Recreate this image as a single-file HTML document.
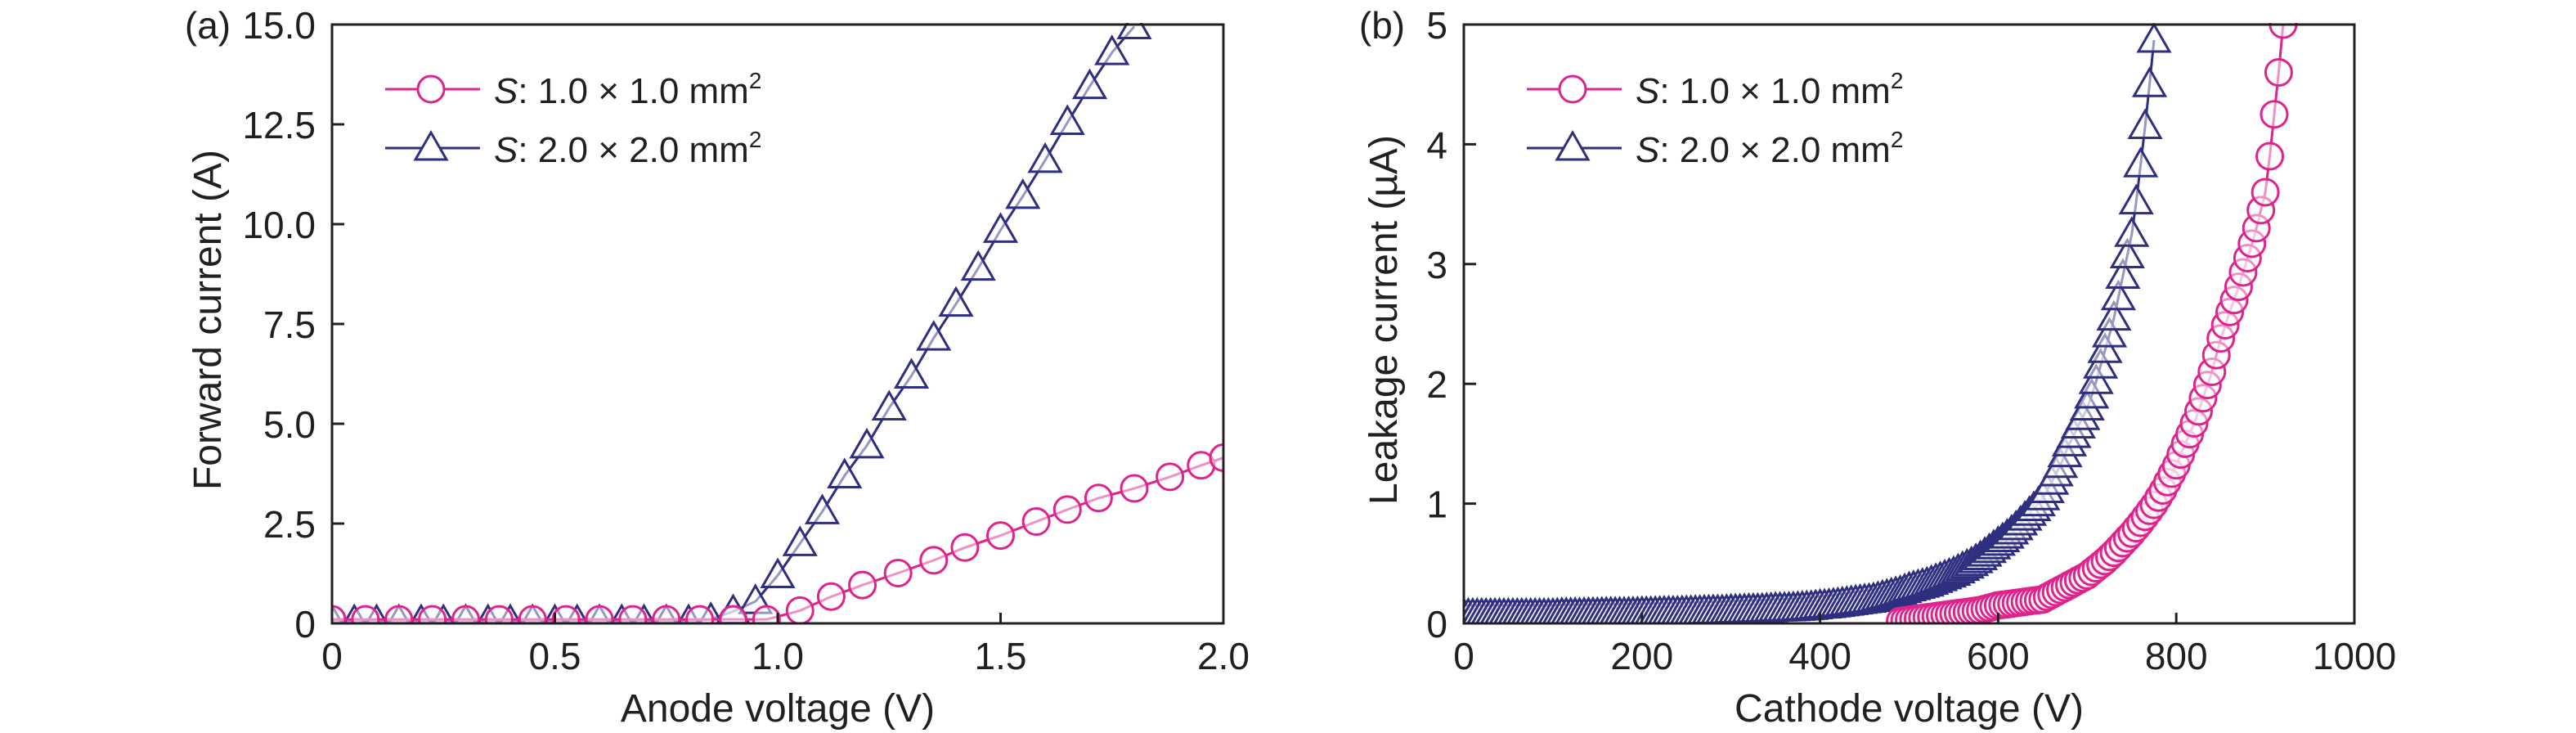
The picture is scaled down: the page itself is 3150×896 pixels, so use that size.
<!DOCTYPE html>
<html><head><meta charset="utf-8"><style>
html,body{margin:0;padding:0;background:#fff}
svg{display:block}
text{font-family:"Liberation Sans",sans-serif;fill:#231f20}
</style></head><body>
<svg id="c" width="3150" height="896" viewBox="0 0 3150 896" xmlns="http://www.w3.org/2000/svg"></svg>
<script>
// Panel (a) data
const aTriX=[0,0.05,0.1,0.15,0.2,0.25,0.3,0.35,0.4,0.45,0.5,0.55,0.6,0.65,0.7,0.75,0.8,0.85,0.9,0.95,1.0,1.05,1.1,1.15,1.2,1.25,1.3,1.35,1.4,1.45,1.5,1.55,1.6,1.65,1.7,1.75,1.8];
const aTriY=[0.05,0.05,0.05,0.05,0.05,0.05,0.05,0.05,0.05,0.05,0.05,0.05,0.05,0.05,0.05,0.05,0.05,0.1,0.3,0.55,1.2,2.0,2.8,3.7,4.45,5.4,6.2,7.15,8.0,8.9,9.85,10.7,11.6,12.55,13.45,14.3,14.95];
const aCirX=[0,0.075,0.15,0.225,0.3,0.375,0.45,0.525,0.6,0.675,0.75,0.825,0.9,0.975,1.05,1.12,1.19,1.27,1.35,1.42,1.5,1.58,1.65,1.72,1.8,1.88,1.95,2.0];
const aCirY=[0.1,0.1,0.1,0.1,0.1,0.1,0.1,0.1,0.1,0.1,0.1,0.1,0.1,0.1,0.32,0.67,0.96,1.26,1.58,1.9,2.2,2.55,2.85,3.14,3.38,3.67,3.96,4.15];
const aXTicks=[0,0.5,1.0,1.5,2.0];
const aXLabels=["0","0.5","1.0","1.5","2.0"];
const aYTicks=[0,2.5,5,7.5,10,12.5,15];
const aYLabels=["0","2.5","5.0","7.5","10.0","12.5","15.0"];
// Panel (b) data
const bTriX=[0,5,10,15,20,25,30,35,40,45,50,55,60,65,70,75,80,85,90,95,100,
105,110,115,120,125,130,135,140,145,150,155,160,165,170,175,180,185,190,195,200,
205,210,215,220,225,230,235,240,245,250,255,260,265,270,275,280,285,290,295,300,
305,310,315,320,325,330,335,340,345,350,355,360,365,370,375,380,385,390,395,400,
405,410,415,420,425,430,435,440,445,450,455,460,465,470,475,480,485,490,495,500,
505,510,515,520,525,530,535,540,545,550,555,560,565,570,575,580,585,590,595,600,
605,610,615,620,625,630,635,640,645,650,655,660,665,670,675,680,685,690,695,700,
705,710,715,720,725,730,735,740,745,750,755,760,765,770,775];
const bTriY=[0.07,0.07,0.07,0.07,0.07,0.07,0.07,0.07,0.07,0.07,0.07,0.07,0.07,0.07,0.07,0.07,0.07,0.07,0.07,0.07,0.07,
0.072,0.075,0.075,0.075,0.075,0.075,0.076,0.078,0.078,0.078,0.079,0.08,0.08,0.08,0.08,0.08,0.081,0.082,0.083,0.085,
0.085,0.085,0.086,0.088,0.089,0.09,0.09,0.09,0.091,0.092,0.093,0.095,0.096,0.097,0.098,0.1,0.1,0.1,0.102,0.105,
0.106,0.107,0.108,0.11,0.111,0.112,0.113,0.115,0.117,0.12,0.121,0.122,0.123,0.125,0.127,0.13,0.132,0.135,0.14,0.145,
0.147,0.15,0.155,0.16,0.165,0.17,0.175,0.18,0.185,0.19,0.195,0.2,0.21,0.22,0.23,0.24,0.25,0.26,0.275,0.29,
0.3,0.31,0.32,0.33,0.345,0.36,0.375,0.39,0.405,0.42,0.44,0.46,0.48,0.5,0.525,0.55,0.58,0.61,0.64,0.67,
0.7,0.73,0.765,0.8,0.84,0.88,0.92,0.96,1.0,1.05,1.11,1.18,1.25,1.32,1.41,1.5,1.57,1.65,1.72,1.8,
1.9,2.02,2.15,2.28,2.41,2.55,2.72,2.9,3.07,3.25,3.52,3.83,4.15,4.5,4.87];
const bCirX=[490,495,500,505,510,515,520,525,530,535,540,545,550,555,560,565,570,575,580,585,590,595,600,
605,610,615,620,625,630,635,640,645,650,655,660,665,670,675,680,685,690,695,700,
705,710,715,720,725,730,735,740,745,750,755,760,765,770,775,780,785,790,795,800,
805,810,815,820,825,830,835,840,845,850,855,860,865,870,875,880,885,890,895,900,
905,910,915,920];
const bCirY=[0.02,0.025,0.03,0.035,0.04,0.045,0.05,0.055,0.06,0.065,0.07,0.075,0.08,0.085,0.09,0.095,0.1,0.105,0.11,0.12,0.13,0.14,0.15,
0.155,0.16,0.165,0.17,0.175,0.18,0.185,0.19,0.195,0.2,0.22,0.24,0.26,0.28,0.3,0.32,0.34,0.36,0.38,0.4,
0.43,0.46,0.49,0.52,0.555,0.59,0.63,0.67,0.71,0.75,0.795,0.84,0.89,0.94,0.99,1.05,1.11,1.18,1.25,1.32,
1.41,1.5,1.58,1.67,1.77,1.88,1.99,2.1,2.24,2.38,2.49,2.6,2.7,2.81,2.93,3.05,3.17,3.3,3.45,3.6,
3.9,4.25,4.6,5.0];
const bXTicks=[0,200,400,600,800,1000];
const bXLabels=["0","200","400","600","800","1000"];
const bYTicks=[0,1,2,3,4,5];
const bYLabels=["0","1","2","3","4","5"];

const NS="http://www.w3.org/2000/svg";
const svg=document.getElementById('c');
const PINK="#e0238c", NAVY="#2f2f80";
function mk(tag,attrs,parent){const e=document.createElementNS(NS,tag);for(const k in attrs)e.setAttribute(k,attrs[k]);(parent||svg).appendChild(e);return e;}

function panel(o){
  const g=mk('g',{});
  
  
  const sx=v=>o.x0+(v-o.xmin)/(o.xmax-o.xmin)*(o.x1-o.x0);
  const sy=v=>o.y1-(v-o.ymin)/(o.ymax-o.ymin)*(o.y1-o.y0);
  const clip=mk('clipPath',{id:o.id+'clip'},g);
  mk('rect',{x:o.x0,y:o.y0-2,width:o.x1-o.x0,height:o.y1-o.y0+2},clip);
  const plot=mk('g',{'clip-path':'url(#'+o.id+'clip)'},g);
  function series(xs,ys,col,shape,name){
    const sg=mk('g',{},plot);
    
    
    const pts=xs.map((x,i)=>sx(x).toFixed(1)+','+sy(ys[i]).toFixed(1)).join(' ');
    const pl=mk('polyline',{points:pts,fill:'none',stroke:col,'stroke-width':3},sg);
    
    
    xs.forEach((x,i)=>{
      const cx=sx(x),cy=sy(ys[i]);let m;
      if(shape==='c'){m=mk('circle',{cx:cx,cy:cy,r:16,fill:'#fff','fill-opacity':0.5,stroke:col,'stroke-width':3},sg);}
      else{m=mk('polygon',{points:`${cx},${cy-19} ${cx-19},${cy+14} ${cx+19},${cy+14}`,fill:'#fff','fill-opacity':0.5,stroke:col,'stroke-width':3},sg);}
      
      
    });
  }
  series(o.triX,o.triY,NAVY,'t',o.id+'-series-2x2');
  series(o.cirX,o.cirY,PINK,'c',o.id+'-series-1x1');
  const fr=mk('rect',{x:o.x0,y:o.y0,width:o.x1-o.x0,height:o.y1-o.y0,fill:'none',stroke:'#231f20','stroke-width':3},g);
  
  
  o.xt.forEach((v,i)=>{
    const x=sx(v);
    mk('line',{x1:x,x2:x,y1:o.y1,y2:o.y1-13,stroke:'#231f20','stroke-width':3},g);
    const t=mk('text',{x:x,y:o.y1+56,'font-size':46,'text-anchor':'middle'},g);
    t.textContent=o.xl[i];
    
    
  });
  o.yt.forEach((v,i)=>{
    const y=sy(v);
    mk('line',{x1:o.x0,x2:o.x0+15,y1:y,y2:y,stroke:'#231f20','stroke-width':3},g);
    const t=mk('text',{x:o.x0-20,y:y+17,'font-size':46,'text-anchor':'end'},g);
    t.textContent=o.yl[i];
    
    
  });
  const xt=mk('text',{x:(o.x0+o.x1)/2,y:882,'font-size':48,'text-anchor':'middle'},g);
  xt.textContent=o.xtitle;
  
  
  const yt=mk('text',{x:0,y:0,'font-size':48,'text-anchor':'middle',transform:`translate(${o.ytx},${(o.y0+o.y1)/2-5}) rotate(-90)`},g);
  yt.textContent=o.ytitle;
  
  
  const pl=mk('text',{x:o.plx,y:o.y0+17,'font-size':46,'text-anchor':'middle'},g);
  pl.textContent=o.plabel;
  
  
  // legend
  const lg=mk('g',{},g);
  
  
  [[PINK,'c','1.0 × 1.0 mm',109],[NAVY,'t','2.0 × 2.0 mm',181]].forEach(([col,sh,lab,y])=>{
    const e=mk('g',{},lg);
    
    
    mk('line',{x1:o.lx,x2:o.lx+116,y1:y,y2:y,stroke:col,'stroke-width':3},e);
    const cx=o.lx+56;
    if(sh==='c')mk('circle',{cx:cx,cy:y,r:16,fill:'#fff',stroke:col,'stroke-width':3},e);
    else mk('polygon',{points:`${cx},${y-19} ${cx-19},${y+14} ${cx+19},${y+14}`,fill:'#fff',stroke:col,'stroke-width':3},e);
    const t=mk('text',{x:o.lx+133,y:y+17,'font-size':44},e);
    t.innerHTML='<tspan font-style="italic">S</tspan>: '+lab+'<tspan font-size="28" dy="-18">2</tspan>';
  });
}
panel({id:'a',x0:406,x1:1496,y0:30,y1:762,xmin:0,xmax:2,ymin:0,ymax:15,triX:aTriX,triY:aTriY,cirX:aCirX,cirY:aCirY,
  xt:aXTicks,xl:aXLabels,yt:aYTicks,yl:aYLabels,xtitle:'Anode voltage (V)',ytitle:'Forward current (A)',ytx:270,plx:254,plabel:'(a)',lx:471});
panel({id:'b',x0:1790,x1:2879,y0:30,y1:762,xmin:0,xmax:1000,ymin:0,ymax:5,triX:bTriX,triY:bTriY,cirX:bCirX,cirY:bCirY,
  xt:bXTicks,xl:bXLabels,yt:bYTicks,yl:bYLabels,xtitle:'Cathode voltage (V)',ytitle:'Leakage current (µA)',ytx:1708,plx:1690,plabel:'(b)',lx:1867});
</script>
</body></html>
